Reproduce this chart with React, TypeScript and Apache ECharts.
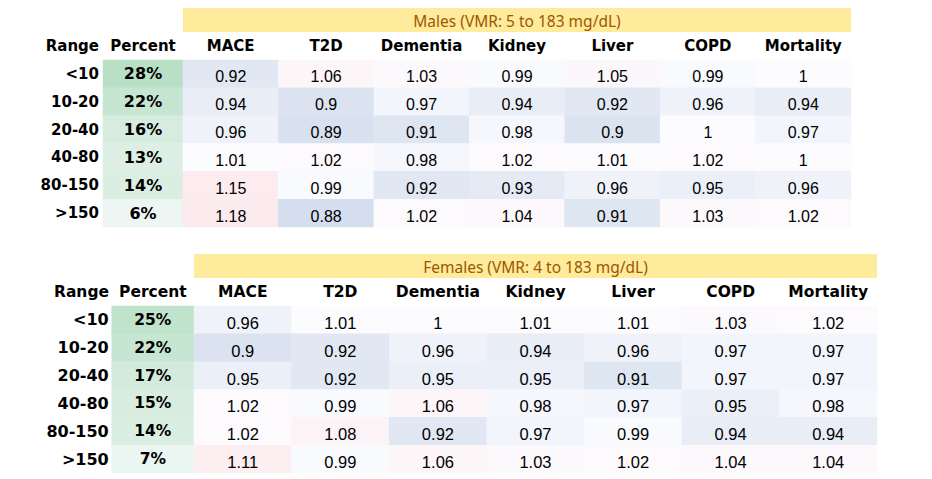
import React, { useEffect, useRef } from "react";
import * as echarts from "echarts";

const ranges = ["<10", "10-20", "20-40", "40-80", "80-150", ">150"];
const outcomes = ["MACE", "T2D", "Dementia", "Kidney", "Liver", "COPD", "Mortality"];
const malePercent = [28, 22, 16, 13, 14, 6];
const femalePercent = [25, 22, 17, 15, 14, 7];
const maleValues = [
  [0.92, 1.06, 1.03, 0.99, 1.05, 0.99, 1],
  [0.94, 0.9, 0.97, 0.94, 0.92, 0.96, 0.94],
  [0.96, 0.89, 0.91, 0.98, 0.9, 1, 0.97],
  [1.01, 1.02, 0.98, 1.02, 1.01, 1.02, 1],
  [1.15, 0.99, 0.92, 0.93, 0.96, 0.95, 0.96],
  [1.18, 0.88, 1.02, 1.04, 0.91, 1.03, 1.02],
];
const femaleValues = [
  [0.96, 1.01, 1, 1.01, 1.01, 1.03, 1.02],
  [0.9, 0.92, 0.96, 0.94, 0.96, 0.97, 0.97],
  [0.95, 0.92, 0.95, 0.95, 0.91, 0.97, 0.97],
  [1.02, 0.99, 1.06, 0.98, 0.97, 0.95, 0.98],
  [1.02, 1.08, 0.92, 0.97, 0.99, 0.94, 0.94],
  [1.11, 0.99, 1.06, 1.03, 1.02, 1.04, 1.04],
];
const maleTitle = "Males (VMR: 5 to 183 mg/dL)";
const femaleTitle = "Females (VMR: 4 to 183 mg/dL)";
const rangeHeader = "Range";
const percentHeader = "Percent";

const BOLD = "DejaVu Sans";
const NUM = "Liberation Sans, Arial, sans-serif";

function toCells(rows: number[][]) {
  const out: number[][] = [];
  rows.forEach((r, y) => r.forEach((v, x) => out.push([x, y, v])));
  return out;
}
function toPct(vals: number[]) {
  return vals.map((v, y) => [0, y, v]);
}

export default function App() {
  const ref = useRef<HTMLDivElement>(null);
  useEffect(() => {
    document.body.style.margin = "0";
    const chart = echarts.init(ref.current!, null, { renderer: "svg" });
    const hide = { axisLine: { show: false }, axisTick: { show: false }, splitLine: { show: false } };
    const topLabel = (size: number) => ({
      show: true,
      interval: 0,
      fontFamily: BOLD,
      fontWeight: "bold",
      fontSize: size,
      color: "#000",
      margin: 14,
      verticalAlign: "middle",
    });
    const dataLabel = (size: number) => ({
      show: true,
      fontFamily: NUM,
      fontSize: size,
      color: "#000",
      offset: [0, 3],
      formatter: (p: any) => String(p.value[2]),
    });
    const pctLabel = (size: number) => ({
      show: true,
      fontFamily: BOLD,
      fontWeight: "bold",
      fontSize: size,
      color: "#000",
      formatter: (p: any) => p.value[2] + "%",
    });
    chart.setOption({
      animation: false,
      backgroundColor: "#fff",
      grid: [
        { left: 103, top: 60, width: 80, height: 167 },
        { left: 183, top: 60, width: 668, height: 167 },
        { left: 111.7, top: 306, width: 82.3, height: 167 },
        { left: 194, top: 306, width: 683, height: 167 },
      ],
      xAxis: [
        { type: "category", gridIndex: 0, position: "top", data: [percentHeader], axisLabel: topLabel(15), ...hide },
        { type: "category", gridIndex: 1, position: "top", data: outcomes, axisLabel: topLabel(15), ...hide },
        { type: "category", gridIndex: 2, position: "top", data: [percentHeader], axisLabel: topLabel(15.5), ...hide },
        { type: "category", gridIndex: 3, position: "top", data: outcomes, axisLabel: topLabel(15.5), ...hide },
      ],
      yAxis: [
        {
          type: "category", gridIndex: 0, inverse: true, data: ranges, ...hide,
          axisLabel: { interval: 0, fontFamily: BOLD, fontWeight: "bold", fontSize: 15, color: "#000", margin: 4 },
        },
        { type: "category", gridIndex: 1, inverse: true, data: ranges, ...hide, axisLabel: { show: false } },
        {
          type: "category", gridIndex: 2, inverse: true, data: ranges, ...hide,
          axisLabel: { interval: 0, fontFamily: BOLD, fontWeight: "bold", fontSize: 16, color: "#000", margin: 3 },
        },
        { type: "category", gridIndex: 3, inverse: true, data: ranges, ...hide, axisLabel: { show: false } },
      ],
      visualMap: [
        {
          type: "continuous", show: false, seriesIndex: [1, 3], min: 0.82, max: 1.18,
          inRange: { color: ["#d4deee", "#d4deee", "#e8edf6", "#fcfcff", "#fcf6f9", "#fcedf0", "#fcebee"] },
        },
        {
          type: "continuous", show: false, seriesIndex: [0, 2], min: 0, max: 30,
          inRange: { color: ["#fcfcff", "#b4dec1"] },
        },
      ],
      series: [
        { type: "heatmap", xAxisIndex: 0, yAxisIndex: 0, data: toPct(malePercent), label: pctLabel(16), emphasis: { disabled: true } },
        { type: "heatmap", xAxisIndex: 1, yAxisIndex: 1, data: toCells(maleValues), label: dataLabel(16), emphasis: { disabled: true } },
        { type: "heatmap", xAxisIndex: 2, yAxisIndex: 2, data: toPct(femalePercent), label: pctLabel(15.5), emphasis: { disabled: true } },
        { type: "heatmap", xAxisIndex: 3, yAxisIndex: 3, data: toCells(femaleValues), label: dataLabel(16.5), emphasis: { disabled: true } },
      ],
      graphic: [
        { type: "rect", shape: { x: 183, y: 8, width: 668, height: 24 }, style: { fill: "#FFEB9C" } },
        {
          type: "text", x: 517, y: 21,
          style: { text: maleTitle, align: "center", verticalAlign: "middle", fill: "#9C5700", font: "15.5px 'Noto Sans'" },
        },
        { type: "rect", shape: { x: 194, y: 254, width: 683, height: 24 }, style: { fill: "#FFEB9C" } },
        {
          type: "text", x: 535.5, y: 267,
          style: { text: femaleTitle, align: "center", verticalAlign: "middle", fill: "#9C5700", font: "15.5px 'Noto Sans'" },
        },
        {
          type: "text", x: 99, y: 46,
          style: { text: rangeHeader, align: "right", verticalAlign: "middle", fill: "#000", font: "bold 15px 'DejaVu Sans'" },
        },
        {
          type: "text", x: 109, y: 292,
          style: { text: rangeHeader, align: "right", verticalAlign: "middle", fill: "#000", font: "bold 15.5px 'DejaVu Sans'" },
        },
      ],
    });
    return () => chart.dispose();
  }, []);
  return <div ref={ref} style={{ width: 932, height: 479 }} />;
}
